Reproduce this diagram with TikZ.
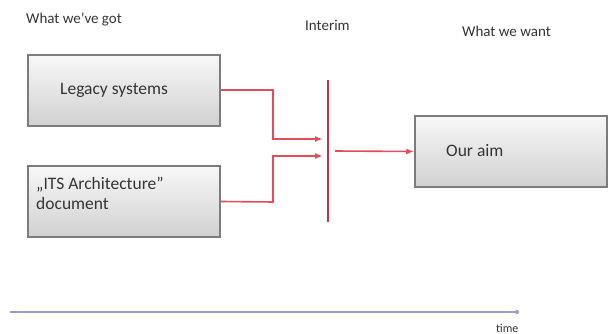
\documentclass[tikz,border=0pt]{standalone}
\usepackage{fontspec}
\setmainfont{Carlito}
\usetikzlibrary{arrows.meta,calc}
\definecolor{redline}{HTML}{E44C5E}
\definecolor{barred}{HTML}{B8384C}
\definecolor{axisblue}{HTML}{9A9CC8}
\definecolor{txt}{HTML}{353535}
\definecolor{boxborder}{HTML}{7C7C7C}
\tikzset{
  box/.style={draw=boxborder, line width=1.5pt, top color=gray!6, bottom color=gray!36,
    minimum width=192pt, minimum height=71pt, inner sep=0pt},
  boxtext/.style={text=txt, font=\fontsize{17.5}{20}\selectfont, anchor=west, inner sep=0pt},
  title/.style={text=txt, font=\fontsize{15}{18}\selectfont, inner sep=0pt, anchor=west},
  conn/.style={draw=redline, line width=1.6pt, -{Latex[length=8pt,width=6pt]}},
}
\begin{document}
\begin{tikzpicture}[x=1pt,y=-1pt]
\useasboundingbox (0,0) rectangle (614,334);
\fill[white] (0,0) rectangle (614,334);
% titles
\node[title] (t1) at (26,20) {What we’ve got};
\node[title] (t2) at (305,25) {Interim};
\node[title] (t3) at (462,31) {What we want};
% boxes
\node[box] (legacy) at (124,90.5) {};
\node[boxtext] (ltxt) at (60,90) {Legacy systems};
\node[box] (its) at (124,201.5) {};
\node[boxtext, align=left] (itxt) at (36,193.5) {„ITS Architecture”\\document};
\node[box] (aim) at (511,151.5) {};
\node[boxtext] (atxt) at (446,151) {Our aim};
% interim bar
\coordinate (bt) at (328,80);
\coordinate (bb) at (328,222);
\draw[barred, line width=2.4pt] (bt) -- (bb);
\coordinate (in1) at (323,139);
\coordinate (in2) at (323,156);
\coordinate (out) at (335,151);
\draw[conn] ($(legacy.east)+(0,-0.5)$) -- (273,90) -- (273,139) -- (in1);
\draw[conn] (its.east) -- (273,202) -- (273,156) -- (in2);
\draw[conn] (out) -- (aim.west);
% time axis
\coordinate (ax0) at (10,312);
\coordinate (ax1) at (519,312);
\draw[axisblue, line width=1.4pt, -{Circle[length=4pt]}] (ax0) -- (ax1);
\node[text=txt, font=\fontsize{12}{14}\selectfont, anchor=west, inner sep=0pt] (time) at (496,328) {time};
\end{tikzpicture}
\end{document}
